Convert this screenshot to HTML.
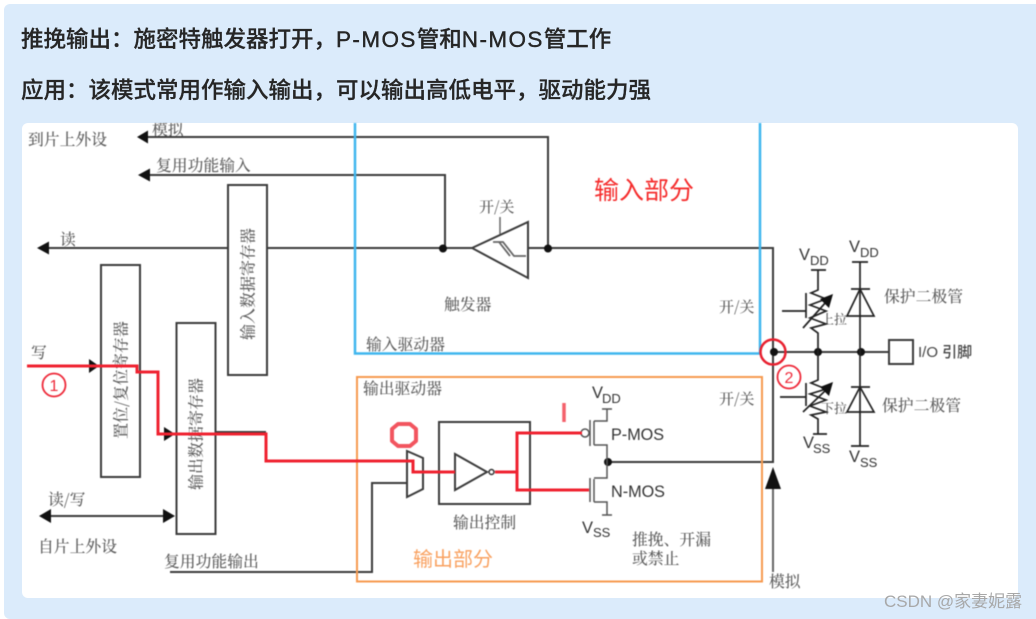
<!DOCTYPE html>
<html lang="zh"><head><meta charset="utf-8"><title>推挽输出</title>
<style>
html,body{margin:0;padding:0;background:#fff;width:1036px;height:619px;overflow:hidden}
#panel{position:absolute;left:4px;top:4px;width:1040px;height:615px;background:#dbebfb;border-radius:6px}
#card{position:absolute;left:22px;top:123px;width:996px;height:475px;background:#fff;border-radius:6px}
.h{position:absolute;left:21px;font:500 22.5px "Liberation Sans","Noto Sans CJK SC",sans-serif;color:#262626;white-space:nowrap;line-height:30px;-webkit-text-stroke:0.25px #262626}
.h span{letter-spacing:1.4px;-webkit-text-stroke:0.4px #262626}
svg{position:absolute;left:0;top:0}
.s{font-family:"Noto Serif CJK SC","Liberation Serif",serif;font-size:15.8px;fill:#5e5e5e;font-weight:500}
.a{font-family:"Liberation Sans",sans-serif;fill:#333}
.w{fill:none;stroke:#3c3c3c;stroke-width:2}
.r{fill:none;stroke:#ef2230;stroke-width:3}
.t{fill:none;stroke:#444;stroke-width:1.5}
</style></head><body>
<div id="panel"></div>
<div id="card"></div>
<div class="h" style="top:25px">推挽输出：施密特触发器打开，<span>P-MOS</span>管和<span>N-MOS</span>管工作</div>
<div class="h" style="top:76px">应用：该模式常用作输入输出，可以输出高低电平，驱动能力强</div>
<svg width="1036" height="619" viewBox="0 0 1036 619" xmlns="http://www.w3.org/2000/svg">
<defs><clipPath id="c"><rect x="22" y="123" width="996" height="475"/></clipPath></defs>
<g style="filter:blur(0.5px)">
<g clip-path="url(#c)">
<text class="s" x="152" y="135">模拟</text>
</g>
<text class="s" x="28" y="145">到片上外设</text>
<text class="s" x="156" y="171">复用功能输入</text>
<text class="s" x="60" y="245">读</text>
<text class="s" x="479" y="212" style="font-size:15px">开/关</text>
<text class="s" x="444" y="310">触发器</text>
<text class="s" x="719" y="312" style="font-size:15px">开/关</text>
<text class="s" x="366" y="350">输入驱动器</text>
<text class="s" x="31" y="358">写</text>
<text class="s" x="363" y="394">输出驱动器</text>
<text class="s" x="719" y="404" style="font-size:15px">开/关</text>
<text class="s" x="48" y="505">读/写</text>
<text class="s" x="453" y="528">输出控制</text>
<text class="s" x="38" y="552">自片上外设</text>
<text class="s" x="164" y="567">复用功能输出</text>
<text class="s" x="632" y="545">推挽、开漏</text>
<text class="s" x="632" y="564">或禁止</text>
<text class="s" x="769" y="587">模拟</text>
<text class="s" x="884" y="302">保护二极管</text>
<text class="s" x="882" y="411">保护二极管</text>
<text class="s" x="821" y="324" style="font-size:13px">上拉</text>
<text class="s" x="821" y="413" style="font-size:13px">下拉</text>
<text class="s" x="918" y="357" style="font-family:'Liberation Sans','Noto Sans CJK SC',sans-serif;font-size:15px;fill:#444">I/O 引脚</text>

<g class="w">
<path d="M145 137H548V248"/>
<path d="M146 175H445V248"/>
<path d="M47 248H228"/>
<path d="M267 248H472"/>
<path d="M528 248H773V462H608"/>
<path d="M775 352H889"/>
<path d="M216 432H266"/>
<path d="M170 572H372V483H407"/>
<path d="M47 516H165"/>
<path d="M773 489V572" style="stroke:#666"/>
<rect x="228" y="185" width="39" height="190"/>
<rect x="101" y="265" width="39" height="212"/>
<rect x="176.500" y="323" width="39" height="211" fill="none"/>
<rect x="439" y="422" width="91" height="82"/>
<rect x="889" y="340" width="24" height="24"/>
<path d="M407 451L423 458V489L407 497Z"/>
<path d="M455 454V490L487 472Z"/>
<path d="M472 248L528 222V278Z" style="fill:#fff"/>
</g>
<path d="M500 217V234" class="t" style="stroke:#666"/>
<path d="M493 242H503L514 256H526M499 242L510 256" fill="none" stroke="#666" stroke-width="1.800"/>
<circle cx="491.500" cy="472" r="2.500" fill="#fff" stroke="#333" stroke-width="1.500"/>

<g fill="#111">
<path d="M137 137L148 130.500V143.500Z"/>
<path d="M138 175L150 168.500V181.500Z"/>
<path d="M37 248L49 241.500V254.500Z"/>
<path d="M99 366L89 359V373Z"/>
<path d="M175 434L164 427V441Z"/>
<path d="M39 516L51 509V523Z"/>
<path d="M175 516L163 509V523Z"/>
<path d="M773 467L765 489H781Z"/>
<circle cx="443" cy="248.500" r="4"/>
<circle cx="548" cy="248.500" r="4"/>
<circle cx="774" cy="352" r="4"/>
<circle cx="818" cy="352" r="4"/>
<circle cx="861" cy="352" r="4"/>
<circle cx="608" cy="462" r="4"/>
</g>

<!-- MOS -->
<g class="t" style="stroke:#555">
<circle cx="585" cy="433" r="4" fill="#fff"/>
<path d="M590 420V446M590 478V502" />
<path d="M594 421V445M594 479V502"/>
<path d="M594 421H607V409M602 409H612"/>
<path d="M594 445H607V478H594"/>
<path d="M594 502H607V515M602 515H612"/>
</g>
<text class="a" x="592" y="398" font-size="16.500">V</text><text class="a" x="602" y="403" font-size="13">DD</text>
<text class="a" x="611" y="440" font-size="16.200">P-MOS</text>
<text class="a" x="611" y="497" font-size="16.200">N-MOS</text>
<text class="a" x="582" y="533" font-size="16.500">V</text><text class="a" x="593" y="537" font-size="13">SS</text>

<!-- pull up -->
<g fill="none" stroke="#222" stroke-width="1.700">
<path d="M811 270H826M818 270V290L811 293L826 299L810 305L826 311L810 318L826 324L811 328L818 333V352"/>
<path d="M782 311H806M806 293V318M803 328L826 302"/>
<path d="M813 434H827M818 352V380L811 383L826 389L810 394L826 400L810 406L826 412L811 415L818 419V434"/>
<path d="M780 397H806M806 383V406M803 412L826 390"/>
<path d="M860 262V352V446" />
<path d="M852 262H868M851 289H870M851 387H870M851 446H869"/>
<path d="M860 289L874 316H847Z"/>
<path d="M860 387L874 412H847Z"/>
</g>
<path d="M833 294L820 299L829 308Z M833 382L820 387L829 396Z" fill="#111"/>
<text class="a" x="799" y="260" font-size="16.500">V</text><text class="a" x="810" y="265" font-size="13">DD</text>
<text class="a" x="849" y="252" font-size="16.500">V</text><text class="a" x="860" y="257" font-size="13">DD</text>
<text class="a" x="803" y="448" font-size="16.500">V</text><text class="a" x="813" y="453" font-size="13">SS</text>
<text class="a" x="849" y="462" font-size="16.500">V</text><text class="a" x="860" y="467" font-size="13">SS</text>

<!-- rotated labels -->
<text class="s" transform="translate(248 284) rotate(-90)" text-anchor="middle" y="5.500" style="font-size:16px">输入数据寄存器</text>
<text class="s" transform="translate(121 380) rotate(-90)" text-anchor="middle" y="5.500" style="font-size:16px">置位/复位寄存器</text>
<text class="s" transform="translate(196 434) rotate(-90)" text-anchor="middle" y="5.500" style="font-size:16px">输出数据寄存器</text>

<!-- colored overlays -->
<path d="M355 123V353.500H760V123" fill="none" stroke="#3fb6ee" stroke-width="2.500"/>
<rect x="357" y="377" width="405" height="204.500" fill="none" stroke="#f79a4f" stroke-width="2"/>
<path class="r" d="M27 366H137V372H158V434H266V461H413V472H455"/>
<path class="r" d="M495 472H517M582 433H517V490H589"/>
<path d="M564 403V422" stroke="#f4606a" stroke-width="3.500" fill="none"/>
<path d="M398 424H410L416 429V441L410 446H398L392 441V429Z" fill="none" stroke="#f2555f" stroke-width="4" stroke-linejoin="round"/>
<circle cx="773" cy="352" r="12.500" fill="none" stroke="#e8202f" stroke-width="2.500"/>
<circle cx="54" cy="385" r="11.500" fill="none" stroke="#ee2a3a" stroke-width="1.800"/>
<text x="54" y="391" text-anchor="middle" font-family="Liberation Sans,sans-serif" font-size="16" fill="#ee2a3a">1</text>
<circle cx="789" cy="377" r="11.500" fill="none" stroke="#ee2a3a" stroke-width="1.800"/>
<text x="789" y="383" text-anchor="middle" font-family="Liberation Sans,sans-serif" font-size="16" fill="#ee2a3a">2</text>
<text x="594" y="199" font-family="Liberation Sans,Noto Sans CJK SC,sans-serif" font-size="25" fill="#f52c2c">输入部分</text>
<text x="413" y="566" font-family="Liberation Sans,Noto Sans CJK SC,sans-serif" font-size="20" fill="#f9a160">输出部分</text>
</g>
<text x="884" y="607" font-family="Liberation Sans,Noto Sans CJK SC,sans-serif" font-size="17" fill="#a8a8a8">CSDN @家妻妮露</text>
</svg>
</body></html>
